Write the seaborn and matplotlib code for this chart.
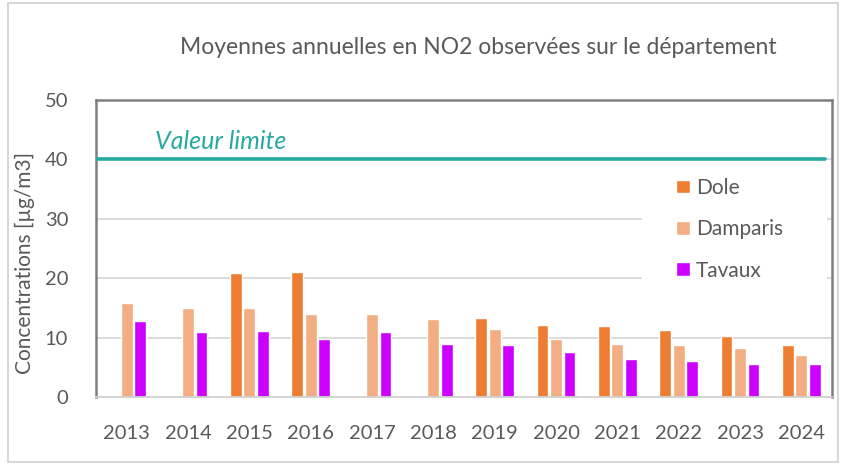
import numpy as np
import pandas as pd
import matplotlib
matplotlib.use("Agg")
import matplotlib.pyplot as plt
import seaborn as sns
from matplotlib.patches import Rectangle

years = ["2013", "2014", "2015", "2016", "2017", "2018", "2019", "2020", "2021", "2022", "2023", "2024"]
dole = [np.nan, np.nan, 20.8, 21.0, np.nan, np.nan, 13.3, 12.2, 11.9, 11.3, 10.2, 8.8]
damparis = [15.9, 14.9, 14.9, 13.9, 13.9, 13.1, 11.4, 9.8, 9.0, 8.8, 8.2, 7.0]
tavaux = [12.8, 10.9, 11.1, 9.8, 10.9, 9.0, 8.8, 7.5, 6.4, 6.1, 5.6, 5.6]
series = ["Dole", "Damparis", "Tavaux"]
colors = ["#ED7D31", "#F2AE82", "#CC00FF"]
limit_value = 40
title = "Moyennes annuelles en NO2 observées sur le département"
ylabel = "Concentrations [µg/m3]"

df = pd.DataFrame({
    "year": years * 3,
    "value": dole + damparis + tavaux,
    "site": [s for s in series for _ in years],
})

sns.set_theme(style="white")
plt.rcParams["font.family"] = ["Lato", "DejaVu Sans"]

W, H = 846, 466
fig = plt.figure(figsize=(W / 100, H / 100), dpi=100)
ax = fig.add_axes([96 / W, (H - 397) / H, (832 - 96) / W, (397 - 100) / H])

sns.barplot(data=df, x="year", y="value", hue="site", hue_order=series,
            palette=colors, order=years, width=0.66, gap=0.12,
            saturation=1, ax=ax, errorbar=None)

ax.set_ylim(0, 50)
ax.set_xlim(-0.5, len(years) - 0.5)
ax.set_yticks([0, 10, 20, 30, 40, 50])
for yv in [10, 20, 30, 40]:
    ax.axhline(yv, color="#d9d9d9", lw=1.3, zorder=0)
ax.axhline(limit_value, xmin=0, xmax=0.99, color="#27A9A1", lw=2.6, zorder=3)
ax.text(0.08, 43, "Valeur limite", transform=ax.get_yaxis_transform(),
        color="#27A9A1", fontsize=18, fontstyle="italic", va="center", ha="left")

# white area behind the legend (hides gridlines like the reference)
ax.add_patch(Rectangle(((642 - 96) / 736, 15.5), (827 - 642) / 736, 21.5,
                       transform=ax.get_yaxis_transform(), facecolor="white",
                       edgecolor="none", zorder=0.5))

ax.set_xlabel("")
ax.set_ylabel(ylabel, fontsize=15, color="#595959")
ax.yaxis.set_label_coords(-0.083, 0.45)
ax.tick_params(axis="both", length=0, labelsize=14.5, colors="#595959")
ax.tick_params(axis="x", pad=20)
ax.tick_params(axis="y", pad=20)

for side in ["left", "top", "right"]:
    ax.spines[side].set_color("#7f7f7f")
    ax.spines[side].set_linewidth(1.8)
ax.spines["bottom"].set_color("#d0d0d0")
ax.spines["bottom"].set_linewidth(1.3)

handles, labels = ax.get_legend_handles_labels()
if ax.get_legend() is not None:
    ax.get_legend().remove()
leg = ax.legend(handles, labels, loc="upper left", bbox_to_anchor=(0.788, 0.738),
                frameon=False, fontsize=15, labelspacing=1.03,
                handlelength=0.65, handleheight=0.65,
                handletextpad=0.3, borderpad=0.0, borderaxespad=0.0)
leg.set_zorder(5)
for t in leg.get_texts():
    t.set_color("#595959")

fig.text(478 / W, 1 - 47 / H, title, ha="center", va="center", fontsize=16.5, color="#595959")

fig.patches.append(Rectangle((8 / W, 4 / H), (838 - 8) / W, (463 - 4) / H,
                             transform=fig.transFigure, fill=False,
                             edgecolor="#d0d0d0", lw=1.2))

fig.savefig("out.png", dpi=100)
